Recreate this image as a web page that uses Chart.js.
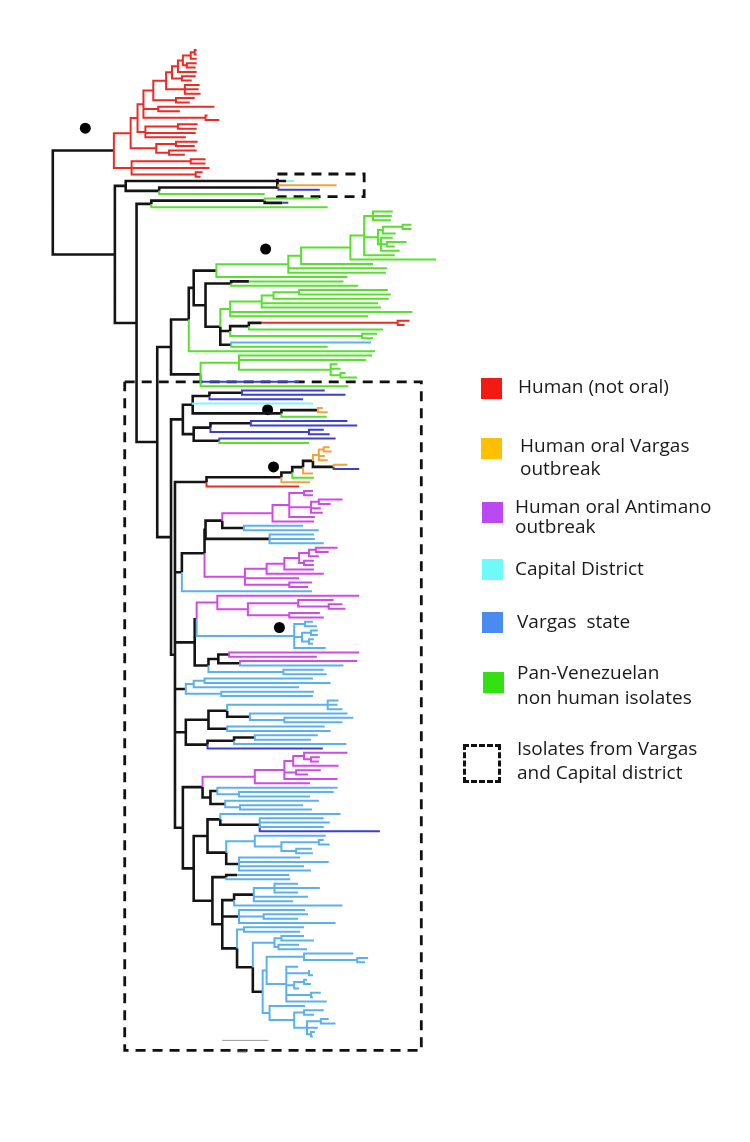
<!DOCTYPE html>
<html><head><meta charset="utf-8">
<script src="https://cdn.jsdelivr.net/npm/chart.js@4.4.1/dist/chart.umd.min.js"></script>
<style>
html,body{margin:0;padding:0;background:#fff;}
#wrap{position:relative;width:750px;height:1142px;overflow:hidden;background:#fff;}
#c{position:absolute;left:0;top:0;}
.lg{position:absolute;font-family:"Open Sans",sans-serif;font-size:19px;color:#1a1a1a;white-space:pre;line-height:20px;}
.sq{position:absolute;width:21px;height:21px;}
.dbox{position:absolute;box-sizing:border-box;border:3px dashed #111;}
.sb{position:absolute;font-family:"Open Sans",sans-serif;font-size:5px;color:#444;line-height:6px;}
</style></head><body>
<div id="wrap"><canvas id="c" width="750" height="1142"></canvas><div id="legend"></div></div>
<script>
// ---------- DATA ----------
// Clades in a Newick-like notation: leaf = colour+depth, node = (children)colour+depth.
// depth = distance from the root (tree units); colour keys listed in branchColourKeys.
const T1 = "(r146,r146)r144";
const T2 = `(${T1},r146)r140`;
const T3 = `(${T2},(r146,r145)r136)r132`;
const T4 = `(${T3},r146)r127`;
const T5 = `(${T4},(r145,r141)r131)r121`;
const T6 = `(${T5},(r149,r148,r150)r134)r115`;
const T7 = `(${T6},(r144,r139)r125)r102`;
const T8 = `(${T7},(r164,r129)r107,(r157,r169)r155)r92`;
const T9 = `(${T8},((r147,r146)r127,r145,r135)r94)r86`;
const redA = `(${T9},((r147,r144)r125,(r146,r134)r118)r105)r79`;
const redB = "((r155,r155)r140,r159,(r152,r150)r145)r80";
const cladeRed = `(${redA},${redB})k62`;

const cladeC = "((c245)k237,((o288,d271)k229,g215)k108)k74";
const cladeF = "((g270,(d239)k233)k215,g279)k100";

const fan = "((g345,g344,g343)g325,(((g364,g364)g355,g348)g335,(g345,(g359,g347)g339,g352)g333)g330,g347)g316";
const n350 = `(${fan},g389)g302`;
const n300 = `(${n350},g325)g252`;
const n287 = `(${n300},g339,g338)g239`;
const cladeGreen = `(${n287},g299)k166`;

const cladeN = "((g295)k199,g310)k181";
const cladeGS = "((((g340,g343)g250,g341)g224,g330,g333)g212,g365,g320)g180";
const cladeLD = "((((r362,r357)r350)k212,g335)k199,(g329,g325)g314)k180";
const cladeT = "(b323,g279)k181";
const cladeO = `(${cladeGS},${cladeLD},${cladeT})k170`;
const cladeM = `(${cladeN},${cladeO})k155`;
const cladeK = `(${cladeGreen},${cladeM})k143`;
const cladeJ = `(${cladeK},g327)k138`;
const cladeGL = "(g324,g318,(g289,g292,(g297,g309)g292)g282)g189";
const cladeL = `(${cladeGL},d250,g300)k150`;
const cladeH = `(${cladeJ},${cladeL})k120`;

const cladeC1 = "((((d276,d297)k192,d254)k159,c264,((o274,o279)k269,g278)k232)k142,(((d299,d309)k201,(d275,d281)d260)k160,(d287,g260)k169)k143)k132";
const cladeC2a = "((((((o281,o283)o275,o276,o279)o270,(o299,d311)k285)k264,o264)k254,g265)k243,o261)k232";
const cladeC2 = `(${cladeC2a},r250)k156`;

const magA = "(((m264,m264)m255,((m294,m282)m270,m272,m274)m262,m266)m240,m265)m223";
const magB = "((((((m289,m280)m267,m270)m260,(m265,m265)m255)m250,m265)m235,m275)m217,m250,(m263,m259)m240)m195";
const block3 = `((((${magA},(b254,b270)k194)k172,(b265,b266,b275)k220)k155,${magB})k154,b263)k131`;

const magC = "(m311,((m285,(m294,m297)m280)m249,(m271,m275)m240)m198)m167";
const skyDot = "((b264,b268)b256,((b269,b269)b262,(b265,b264)b260)b253,b277)b245";
const block4b = "(((m311,m268)k179,(m309,b295)k190)k168,(b275,b278)b234)k158";
const block4 = `((${magC},${skyDot})k146,${block4b})k144`;

const block5 = "(((b264,b282)b154,b250)b143,(b265,b264)b171)k135";
const block6 = "((((b290,b289,b294)b279,(b299,(b305,b294)b235)k200)k177,(b276,b282)k177)k158,(((b269,b262)k205,b298)k184,d274)k157)k135";
const magD = "((((m299,(m271,m270)m262)m255,m290)m244,(m272,m259)m247,m289)m235,m261)m205";
const sky7 = "((b289,(b285,b261)b189)k167,(b270,(b254,b263)b190)k175)k160";
const block7 = `(${magD},${sky7})k152`;
const block8 = "((b292,(b275,b281,b275,d332)k210)k170,((b277,((b275,b281)b270,(b263,b264)b247)b232)b205,(b251,b280,b255,b262)k189)k176)k157";
const b9a = "(((b249,b271,b249)b225,b259,b244)k204,b294)k184";
const b9b = "(b256,(b259,b249)b214,b287)k189";
const b9c = "(b255,b251)b194";
const b9g = "((b255,b265)b232,(b250,b258)b229)b225";
const b9i = "((b305,(b320,b317)b309)b255,(b249,(b261,b264)b260,((b258,b262)b255,b250)b245,(b272,b264)b262,b278)b237)b217";
const b9j = "(b256,((b275,b265)b255,((b280,b287)b272,b269,(b266,b264)b262)b258)b245)b220";
const block9 = `(((b240)k187,b241)k176,(${b9a},${b9b},(${b9c},(${b9g},(${b9i},${b9j})k213)k203)k187)k172)k162`;

const bb8 = `(${block8},${block9})k143`;
const bb7 = `(${block7},${bb8})k132`;
const bb2 = `(${cladeC2},${block3},${block4},${block5},${block6},${bb7})k124`;
const cladeI = `(${cladeC1},${bb2})k120`;
const cladeG = `(${cladeH},${cladeI})k106`;
const cladeE = `(${cladeF},${cladeG})k85`;
const cladeB = `(${cladeC},${cladeE})k63`;
const treeNewick = `(${cladeRed},${cladeB})k0`;

const branchColourKeys = ['g','b','d','c','o','m','r','k'];
const branchColours    = ['#55E12C','#5BB1EE','#3B3FD6','#86F3F6','#F2A33A','#CF4AE6','#EE2A24','#141414'];

// support dots (depth, row)
const dotDepth = [33, 216, 218, 224, 230];
const dotRow   = [17.9, 45.6, 82.4, 95.5, 132.3];

// dashed boxes (depth range, row range)
const boxDepthFrom = [228, 73];
const boxDepthTo   = [316, 374];
const boxRowFrom   = [28.4, 76.0];
const boxRowTo     = [33.6, 229.2];

// scale bar
const scaleBarDepth = [172, 219];
const scaleBarRow = 226.9;
const scaleBarLabel = "0.05";

// legend
const legendLabels = [["Human (not oral)"],["Human oral Vargas","outbreak"],["Human oral Antimano","outbreak"],["Capital District"],["Vargas  state"],["Pan-Venezuelan","non human isolates"],["Isolates from Vargas","and Capital district"]];
const legendSwatches = ['#F21A12','#FFC000','#B94AF2','#6FFAFA','#4A8BEF','#33E012', 'dashed'];

// ---------- LAYOUT (positions) ----------
const legendSquareTop = [378, 438, 502, 559, 612, 672, 744];
const legendSquareLeft = [481, 481, 482, 482, 482, 483, 463];
const legendTextLeft = [518, 520, 515, 515, 517, 517, 517];
const legendLineCentres = [[387],[446,469],[507,527],[569],[622],[673,698],[749,773]];

// ---------- BUILD ----------
function parseTree(str){
  let i = 0;
  function node(){
    const n = {children: []};
    if (str[i] === '('){
      i++;
      n.children.push(node());
      while (str[i] === ','){ i++; n.children.push(node()); }
      i++;
    }
    const m = /^([a-z])(\d+(?:\.\d+)?)/.exec(str.slice(i));
    n.colour = m[1]; n.depth = +m[2]; i += m[0].length;
    return n;
  }
  return node();
}
const root = parseTree(treeNewick);
let leafCount = 0;
(function assign(n){
  if (!n.children.length){ n.row = leafCount++; return; }
  n.children.forEach(assign);
  n.row = (n.children[0].row + n.children[n.children.length-1].row) / 2;
})(root);

const segs = {}; branchColourKeys.forEach(k => segs[k] = []);
(function walk(n){
  n.children.forEach(c => {
    segs[c.colour].push({x:n.depth, y:n.row},{x:n.depth, y:c.row},{x:c.depth, y:c.row},{x:null, y:null});
    walk(c);
  });
})(root);

const rowPx = 996 / (leafCount - 1);
const datasets = [];
branchColourKeys.forEach((k, idx) => {
  if (!segs[k].length) return;
  datasets.push({data: segs[k], showLine: true, spanGaps: false, borderColor: branchColours[idx],
    borderWidth: k === 'k' ? 2.6 : 2, pointRadius: 0, pointHoverRadius: 0,
    borderJoinStyle: 'miter', borderCapStyle: 'butt', fill: false});
});
boxDepthFrom.forEach((d0, i) => {
  const d1 = boxDepthTo[i], r0 = boxRowFrom[i], r1 = boxRowTo[i];
  datasets.push({data: [{x:d0,y:r0},{x:d1,y:r0},{x:d1,y:r1},{x:d0,y:r1},{x:d0,y:r0}], showLine: true,
    borderColor: '#111', borderWidth: 2.8, borderDash: [10, 7], pointRadius: 0, pointHoverRadius: 0, fill: false});
});
datasets.push({data: scaleBarDepth.map(d => ({x:d, y:scaleBarRow})), showLine: true, borderColor: '#9a9a9a',
  borderWidth: 1, pointRadius: 0, pointHoverRadius: 0});
datasets.push({data: dotDepth.map((d, i) => ({x:d, y:dotRow[i]})), showLine: false, pointRadius: 5.5,
  pointHoverRadius: 5.5, backgroundColor: '#000', borderColor: '#000', borderWidth: 0});

new Chart(document.getElementById('c').getContext('2d'), {
  type: 'scatter',
  data: {datasets},
  options: {
    responsive: false, animation: false, devicePixelRatio: 1, events: [],
    layout: {padding: 0},
    plugins: {legend: {display: false}, tooltip: {enabled: false}},
    scales: {
      x: {type: 'linear', display: false, min: -48, max: 702},
      y: {type: 'linear', display: false, reverse: true, min: -45 / rowPx, max: 1097 / rowPx}
    }
  }
});

// legend + scale label (HTML text)
const lg = document.getElementById('legend');
legendLabels.forEach((lines, i) => {
  const sw = document.createElement('div');
  if (legendSwatches[i] === 'dashed'){
    sw.className = 'dbox';
    sw.style.cssText = `left:${legendSquareLeft[i]}px;top:${legendSquareTop[i]}px;width:38px;height:39px;`;
  } else {
    sw.className = 'sq';
    sw.style.cssText = `left:${legendSquareLeft[i]}px;top:${legendSquareTop[i]}px;background:${legendSwatches[i]};`;
  }
  lg.appendChild(sw);
  lines.forEach((t, j) => {
    const d = document.createElement('div');
    d.className = 'lg';
    d.textContent = t;
    d.style.left = legendTextLeft[i] + 'px';
    d.style.top = (legendLineCentres[i][j] - 11) + 'px';
    lg.appendChild(d);
  });
});
const sbl = document.createElement('div');
sbl.className = 'sb';
sbl.textContent = scaleBarLabel;
sbl.style.left = '237px'; sbl.style.top = '1048px';
lg.appendChild(sbl);
</script>
</body></html>
